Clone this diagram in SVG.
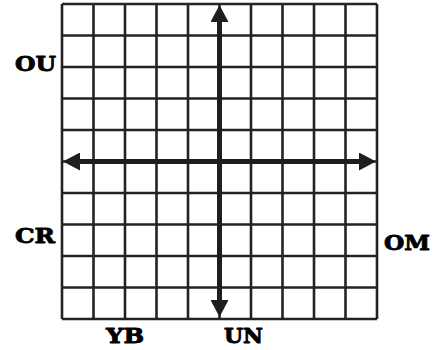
<svg xmlns="http://www.w3.org/2000/svg" width="444" height="350" viewBox="0 0 444 350">
<style>
.grid line{stroke:#232323;stroke-width:2.6}
.axis{stroke:#1e1e1e;stroke-width:5;fill:none}
.lbl{font-family:"DejaVu Serif","Liberation Serif",serif;font-weight:bold;font-size:21px;fill:#000;stroke:#000;stroke-width:0.9;stroke-linejoin:round}
</style>
<defs>
<marker id="ah" markerUnits="userSpaceOnUse" markerWidth="18" markerHeight="18" refX="0" refY="9" orient="auto-start-reverse" viewBox="0 0 17 18">
<path d="M0,0 L17,9 L0,18 z" fill="#1e1e1e"/>
</marker>
</defs>
<rect width="444" height="350" fill="#fff"/>
<g id="grid" class="grid">
<line x1="62" y1="4" x2="62" y2="319"/>
<line x1="93.5" y1="4" x2="93.5" y2="319"/>
<line x1="125" y1="4" x2="125" y2="319"/>
<line x1="156.5" y1="4" x2="156.5" y2="319"/>
<line x1="188" y1="4" x2="188" y2="319"/>
<line x1="219.5" y1="4" x2="219.5" y2="319"/>
<line x1="251" y1="4" x2="251" y2="319"/>
<line x1="282.5" y1="4" x2="282.5" y2="319"/>
<line x1="314" y1="4" x2="314" y2="319"/>
<line x1="345.5" y1="4" x2="345.5" y2="319"/>
<line x1="377" y1="4" x2="377" y2="319"/>
<line x1="62" y1="4" x2="377" y2="4"/>
<line x1="62" y1="35.5" x2="377" y2="35.5"/>
<line x1="62" y1="67" x2="377" y2="67"/>
<line x1="62" y1="98.5" x2="377" y2="98.5"/>
<line x1="62" y1="130" x2="377" y2="130"/>
<line x1="62" y1="161.5" x2="377" y2="161.5"/>
<line x1="62" y1="193" x2="377" y2="193"/>
<line x1="62" y1="224.5" x2="377" y2="224.5"/>
<line x1="62" y1="256" x2="377" y2="256"/>
<line x1="62" y1="287.5" x2="377" y2="287.5"/>
<line x1="62" y1="319" x2="377" y2="319"/>
</g>
<g id="connectors">
<line class="axis" x1="219.5" y1="22" x2="219.5" y2="300" marker-start="url(#ah)" marker-end="url(#ah)"/>
<line class="axis" x1="80" y1="161.5" x2="359" y2="161.5" marker-start="url(#ah)" marker-end="url(#ah)"/>
</g>
<g id="label-OU"><text class="lbl" x="15" y="71" textLength="41" lengthAdjust="spacingAndGlyphs">OU</text></g>
<g id="label-CR"><text class="lbl" x="15" y="243" textLength="40" lengthAdjust="spacingAndGlyphs">CR</text></g>
<g id="label-OM"><text class="lbl" x="384" y="249.5" textLength="46" lengthAdjust="spacingAndGlyphs">OM</text></g>
<g id="label-YB"><text class="lbl" x="106" y="342.5" textLength="38" lengthAdjust="spacingAndGlyphs">YB</text></g>
<g id="label-UN"><text class="lbl" x="224" y="342.5" textLength="39" lengthAdjust="spacingAndGlyphs">UN</text></g>
</svg>
